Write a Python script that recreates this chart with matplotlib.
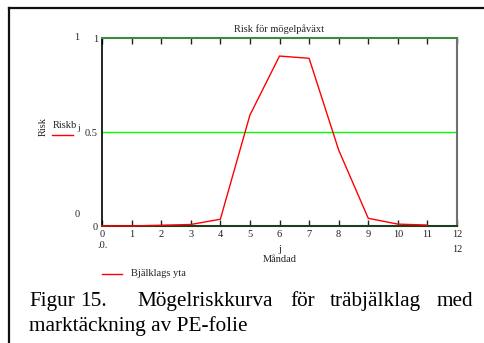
import matplotlib
matplotlib.use("Agg")
import matplotlib.pyplot as plt
from matplotlib.lines import Line2D

plt.rcParams['font.family'] = ['Liberation Serif', 'DejaVu Serif']

# monthly mould risk for the floor surface
months = [0, 1, 2, 3, 4, 5, 6, 7, 8, 9, 10, 11]
risk = [0.0, 0.0, 0.004, 0.008, 0.036, 0.59, 0.904, 0.892, 0.404, 0.041, 0.01, 0.005]
xticks = list(range(0, 13))
yticks = [0, 0.5, 1]
ytick_labels = ['0', '0.5', '1']

W, H = 484, 343
fig = plt.figure(figsize=(W / 100, H / 100), dpi=100)


def px(x, y):
    return x / W, 1 - y / H


# frame around the figure
fig.add_artist(Line2D([9 / W, 9 / W], [0, 1 - 8 / H], color='#111111', lw=1.6))
fig.add_artist(Line2D([9 / W, 1], [1 - 8 / H, 1 - 8 / H], color='#111111', lw=1.6))

l, r, t, b = 102, 457, 38, 226
ax = fig.add_axes([l / W, 1 - b / H, (r - l) / W, (b - t) / H])

ax.axhline(0.5, color='#00ff00', lw=1.0)
ax.plot(months, risk, color='#ff0000', lw=1.0, zorder=3, clip_on=False)

ax.set_xlim(0, 12)
ax.set_ylim(0, 1)
ax.set_xticks(xticks)
ax.set_yticks(yticks)
ax.set_yticklabels(ytick_labels)
ax.tick_params(axis='x', direction='in', length=4.3, width=1, top=True,
               bottom=True, pad=3, labelsize=7.5, colors='#222222')
ax.tick_params(axis='y', length=0, pad=3, labelsize=7.5, colors='#222222')

ax.spines['left'].set_color('black')
ax.spines['left'].set_linewidth(1.2)
ax.spines['top'].set_color('#3c8c3c')
ax.spines['top'].set_linewidth(1.5)
ax.spines['bottom'].set_color('#1e3c1e')
ax.spines['bottom'].set_linewidth(1.5)
ax.spines['right'].set_color('#707070')
ax.spines['right'].set_linewidth(1.5)

small = dict(fontsize=7.5, color='#222222')
fig.text(*px(279, 29), 'Risk för mögelpåväxt', ha='center', va='center', **small)
fig.text(*px(77, 37), '1', ha='center', va='center', **small)
fig.text(*px(77, 215), '0', ha='center', va='center', **small)
fig.text(*px(43, 126), 'Risk', ha='center', va='center', rotation=90, **small)
fig.text(*px(53, 125), 'Riskb', ha='left', va='center', **small)
fig.text(*px(77, 128), 'j', ha='left', va='center', fontsize=6.5, color='#222222')
fig.add_artist(Line2D([52 / W, 73 / W], [1 - 135 / H, 1 - 135 / H], color='#ff0000', lw=1.0))
fig.text(*px(103, 245), '.0.', ha='center', va='center', **small)
fig.text(*px(457, 250), '12', ha='center', va='center', **small)
fig.text(*px(280, 249), 'j', ha='center', va='center', **small)
fig.text(*px(280, 259), 'Måndad', ha='center', va='center', **small)

# legend entry below the plot
fig.add_artist(Line2D([102 / W, 122 / W], [1 - 274 / H, 1 - 274 / H], color='#ff0000', lw=1.0))
fig.text(*px(131, 274), 'Bjälklags yta', ha='left', va='center', **small)

# caption, first line justified
cap = dict(fontsize=15.3, color='black', va='baseline', ha='left')
for x, word in [(29, 'Figur'), (80, '15.'), (137, 'Mögelriskkurva'),
                (290, 'för'), (330, 'träbjälklag'), (437, 'med')]:
    fig.text(*px(x, 306), word, **cap)
fig.text(*px(29, 331), 'marktäckning av PE-folie', **cap)

fig.savefig('out.png', dpi=100)
